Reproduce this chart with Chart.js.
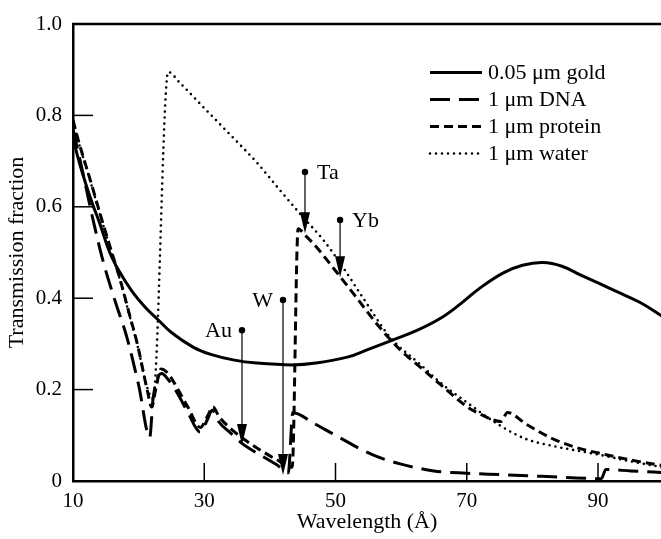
<!DOCTYPE html>
<html>
<head>
<meta charset="utf-8">
<script src="https://cdn.jsdelivr.net/npm/chart.js@4.4.1/dist/chart.umd.min.js"></script>
<style>
  body { margin: 0; background: #fff; }
  #wrap { width: 661px; height: 539px; position: relative; }
</style>
</head>
<body>
<div id="wrap"><canvas id="myChart"></canvas></div>
<script>
// tick values
const xTicks = [10, 30, 50, 70, 90];
const yTicks = [0, 0.2, 0.4, 0.6, 0.8, 1.0];

// 0.05 um gold
const goldX = [10, 11, 12, 13, 14, 15.6, 17, 19, 21, 22.8, 25, 28.3, 31, 34.4, 38, 43.5, 47, 51.8, 55, 58.8, 62.5, 66, 69, 72, 75.5, 78.5, 81.6, 84.5, 87.3, 90.5, 93.4, 96.5, 99.5, 100.5];
const goldY = [0.75, 0.695, 0.648, 0.605, 0.567, 0.5, 0.46, 0.415, 0.38, 0.355, 0.325, 0.293, 0.277, 0.265, 0.258, 0.254, 0.258, 0.271, 0.288, 0.309, 0.33, 0.356, 0.387, 0.422, 0.455, 0.472, 0.478, 0.47, 0.451, 0.43, 0.411, 0.39, 0.363, 0.353];

// 1 um DNA
const dnaX = [10, 11.5, 13, 14.6, 16.5, 18.2, 20, 21.7, 22.2, 23.5, 24.5, 26, 27.5, 29.4, 30.5, 31.2, 32.2, 34, 35.7, 38.5, 41, 42.8, 43.5, 46.6, 50, 55.7, 60, 65, 70, 75, 80, 85, 90.5, 91.2, 95, 100.5];
const dnaY = [0.77, 0.675, 0.575, 0.48, 0.39, 0.315, 0.21, 0.096, 0.18, 0.235, 0.222, 0.19, 0.15, 0.107, 0.135, 0.155, 0.13, 0.105, 0.083, 0.057, 0.036, 0.018, 0.15, 0.127, 0.1, 0.057, 0.037, 0.022, 0.017, 0.014, 0.011, 0.008, 0.005, 0.025, 0.022, 0.018];

// 1 um protein
const proteinX = [10, 10.8, 12.5, 14.1, 15.7, 17.2, 18.5, 19.8, 21.3, 22, 22.6, 23.4, 24.5, 26, 27.5, 29.4, 30.5, 31.3, 32.3, 34, 36, 38.5, 41, 43.4, 44.3, 45.4, 46.6, 50, 53, 56.8, 60, 63, 66.5, 70, 73, 75.2, 76.2, 79, 83, 87, 91.4, 95, 100.5];
const proteinY = [0.79, 0.746, 0.665, 0.586, 0.51, 0.44, 0.37, 0.3, 0.2, 0.162, 0.2, 0.245, 0.235, 0.2, 0.162, 0.117, 0.142, 0.162, 0.14, 0.115, 0.092, 0.068, 0.047, 0.03, 0.552, 0.537, 0.52, 0.46, 0.405, 0.335, 0.285, 0.248, 0.205, 0.163, 0.14, 0.13, 0.15, 0.125, 0.093, 0.072, 0.057, 0.046, 0.032];

// 1 um water
const waterX = [10, 10.8, 12.5, 14.1, 15.7, 17.2, 18.5, 19.8, 21.3, 22.2, 24.5, 26.3, 30, 34, 38, 41.5, 45, 48, 50.7, 54, 58.3, 63, 66, 70, 75, 79, 83, 87, 90, 95, 100.5];
const waterY = [0.785, 0.744, 0.663, 0.584, 0.508, 0.438, 0.368, 0.298, 0.205, 0.18, 0.895, 0.871, 0.816, 0.757, 0.697, 0.637, 0.578, 0.53, 0.477, 0.405, 0.315, 0.254, 0.215, 0.172, 0.122, 0.092, 0.077, 0.066, 0.058, 0.043, 0.028];

const seriesNames = ["0.05 μm gold", "1 μm DNA", "1 μm protein", "1 μm water"];

// absorption edge markers
const markerLabels = ["Au", "W", "Ta", "Yb"];
const markerX = [35.75, 42.0, 45.35, 50.7];
const markerTop = [0.33, 0.396, 0.676, 0.571];
const markerTip = [0.079, 0.013, 0.542, 0.446];
const markerSide = ["left", "left", "right", "right"];

const serif = "'Liberation Serif', 'Times New Roman', serif";

function pts(xs, ys) {
  return xs.map((x, i) => ({ x: x, y: ys[i] }));
}

const extras = {
  id: "extras",
  afterDatasetsDraw(chart) {
    const { ctx, chartArea: a, scales: { x, y } } = chart;
    ctx.save();
    ctx.strokeStyle = "#000";
    ctx.fillStyle = "#000";

    // top frame line
    ctx.lineWidth = 2.5;
    ctx.beginPath();
    ctx.moveTo(a.left - 1, a.top);
    ctx.lineTo(a.right, a.top);
    ctx.stroke();

    // ticks pointing inward
    ctx.lineWidth = 1.5;
    yTicks.slice(1, -1).forEach(v => {
      const py = y.getPixelForValue(v);
      ctx.beginPath();
      ctx.moveTo(a.left, py);
      ctx.lineTo(a.left + 20, py);
      ctx.stroke();
    });
    xTicks.slice(1).forEach(v => {
      const px = x.getPixelForValue(v);
      ctx.beginPath();
      ctx.moveTo(px, a.bottom);
      ctx.lineTo(px, a.bottom - 18);
      ctx.stroke();
    });

    // edge markers (dot, line, arrow head, label)
    ctx.font = "22px " + serif;
    ctx.textBaseline = "middle";
    markerLabels.forEach((lab, i) => {
      const px = x.getPixelForValue(markerX[i]);
      const top = y.getPixelForValue(markerTop[i]);
      const tip = y.getPixelForValue(markerTip[i]);
      ctx.lineWidth = 1.2;
      ctx.beginPath();
      ctx.moveTo(px, top);
      ctx.lineTo(px, tip - 15);
      ctx.stroke();
      ctx.beginPath();
      ctx.moveTo(px, tip);
      ctx.lineTo(px - 5, tip - 21);
      ctx.lineTo(px + 5, tip - 21);
      ctx.closePath();
      ctx.fill();
      ctx.beginPath();
      ctx.arc(px, top, 3.2, 0, Math.PI * 2);
      ctx.fill();
      if (markerSide[i] === "left") {
        ctx.textAlign = "right";
        ctx.fillText(lab, px - 10, top + 1);
      } else {
        ctx.textAlign = "left";
        ctx.fillText(lab, px + 12, top + 1);
      }
    });

    // legend
    ctx.textAlign = "left";
    chart.data.datasets.forEach((ds, i) => {
      const ly = 72.5 + i * 27;
      ctx.lineWidth = ds.borderWidth;
      ctx.lineCap = ds.borderCapStyle || "butt";
      ctx.setLineDash(ds.borderDash || []);
      ctx.beginPath();
      ctx.moveTo(430, ly);
      ctx.lineTo(482, ly);
      ctx.stroke();
      ctx.setLineDash([]);
      ctx.fillText(ds.label, 488, ly + 1);
    });
    ctx.restore();
  }
};

new Chart(document.getElementById("myChart"), {
  type: "line",
  data: {
    datasets: [
      {
        label: seriesNames[0],
        data: pts(goldX, goldY),
        borderColor: "#000",
        borderWidth: 3,
        borderDash: [],
        cubicInterpolationMode: "default",
        tension: 0.4,
      },
      {
        label: seriesNames[1],
        data: pts(dnaX, dnaY),
        borderColor: "#000",
        borderWidth: 3,
        borderDash: [20, 9],
      },
      {
        label: seriesNames[2],
        data: pts(proteinX, proteinY),
        borderColor: "#000",
        borderWidth: 3,
        borderDash: [9, 5],
      },
      {
        label: seriesNames[3],
        data: pts(waterX, waterY),
        borderColor: "#000",
        borderWidth: 2.6,
        borderDash: [0, 6],
        borderCapStyle: "round",
      },
    ],
  },
  options: {
    responsive: true,
    maintainAspectRatio: false,
    animation: false,
    layout: { padding: { top: 24, right: 0, left: 0, bottom: 0 } },
    elements: {
      point: { radius: 0 },
      line: { cubicInterpolationMode: "monotone", fill: false },
    },
    plugins: {
      legend: { display: false },
      tooltip: { enabled: false },
    },
    scales: {
      x: {
        type: "linear",
        min: 10,
        max: 99.6,
        afterBuildTicks: s => { s.ticks = xTicks.map(v => ({ value: v })); },
        afterFit: s => { s.height = 58; },
        grid: { drawOnChartArea: false, drawTicks: false },
        border: { display: true, color: "#000", width: 2.5 },
        ticks: {
          color: "#000",
          padding: 8,
          maxRotation: 0,
          font: { family: serif, size: 21 },
          callback: v => String(v),
        },
        title: {
          display: true,
          text: "Wavelength (Å)",
          color: "#000",
          font: { family: serif, size: 22 },
          padding: { top: 0, bottom: 4 },
        },
      },
      y: {
        type: "linear",
        min: 0,
        max: 1,
        afterBuildTicks: s => { s.ticks = yTicks.map(v => ({ value: v })); },
        afterFit: s => { s.width = 73; },
        grid: { drawOnChartArea: false, drawTicks: false },
        border: { display: true, color: "#000", width: 2.5 },
        ticks: {
          color: "#000",
          padding: 11,
          font: { family: serif, size: 21 },
          callback: v => (v === 0 ? "0" : v.toFixed(1)),
        },
        title: {
          display: true,
          text: "Transmission fraction",
          color: "#000",
          font: { family: serif, size: 22 },
          padding: { top: 4, bottom: 0 },
        },
      },
    },
  },
  plugins: [extras],
});
</script>
</body>
</html>
